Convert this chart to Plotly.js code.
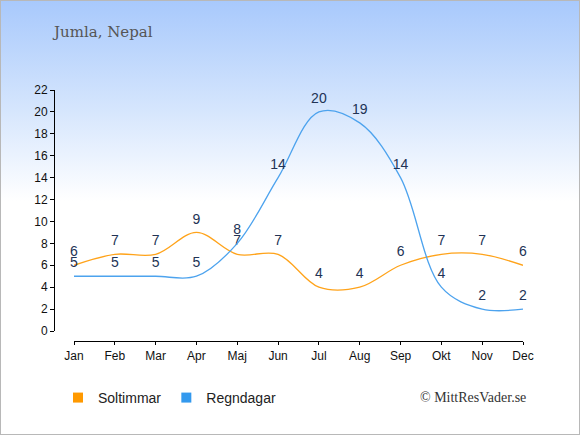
<!DOCTYPE html>
<html><head><meta charset="utf-8">
<script src="https://cdn.plot.ly/plotly-3.0.1.min.js"></script>
<style>
html,body{margin:0;padding:0;}
#wrap{width:578px;height:433px;border:1px solid #b8b8b8;background:linear-gradient(to bottom,#a8c9fc 0px,#d6e6fd 110px,#ffffff 200px,#ffffff 435px);position:relative;}
#chart{width:580px;height:435px;position:absolute;left:-1px;top:-1px;}
</style></head>
<body><div id="wrap"><div id="chart"></div></div>
<script>
const months = ["Jan","Feb","Mar","Apr","Maj","Jun","Jul","Aug","Sep","Okt","Nov","Dec"];
const sunHours = [6,7,7,9,7,7,4,4,6,7,7,6];
const rainDays = [5,5,5,5,8,14,20,19,14,4,2,2];
const yTicks = [0,2,4,6,8,10,12,14,16,18,20,22];
const sunName = "Soltimmar";
const rainName = "Regndagar";
const sunColor = "#ffa31a";
const rainColor = "#4da3ee";
const labelFont = {family:"Liberation Sans, Arial, sans-serif", size:14, color:"#223355"};

const traces = [
  {x:months, y:sunHours, mode:"lines+markers+text", text:sunHours.map(String), textposition:"top center",
   textfont:labelFont, line:{color:sunColor, width:1.3, shape:"spline", smoothing:1},
   marker:{size:7, color:"rgba(0,0,0,0)"},
   showlegend:false, hoverinfo:"skip", cliponaxis:false},
  {x:months, y:rainDays, mode:"lines+markers+text", text:rainDays.map(String), textposition:"top center",
   textfont:labelFont, line:{color:rainColor, width:1.3, shape:"spline", smoothing:1},
   marker:{size:7, color:"rgba(0,0,0,0)"},
   showlegend:false, hoverinfo:"skip", cliponaxis:false},
  {x:[null], y:[null], type:"scatter", mode:"markers", name:sunName,
   marker:{symbol:"square", size:10, color:"#ff9900"}, showlegend:true},
  {x:[null], y:[null], type:"scatter", mode:"markers", name:rainName,
   marker:{symbol:"square", size:10, color:"#3399ee"}, showlegend:true}
];

const layout = {
  width:580, height:435,
  paper_bgcolor:"rgba(0,0,0,0)", plot_bgcolor:"rgba(0,0,0,0)",
  margin:{l:54, r:57, t:90, b:94},
  font:{family:"Liberation Sans, Arial, sans-serif", size:12, color:"#111"},
  xaxis:{type:"category", domain:[20/469,1], anchor:"free", position:0,
    range:[0,11], showgrid:false, zeroline:false, showline:true, linecolor:"#000", linewidth:1.3,
    ticks:"outside", ticklen:3, tickcolor:"#000", tickfont:{size:12, color:"#111"}, fixedrange:true},
  yaxis:{domain:[10/251,1], anchor:"free", position:0, range:[0,22], tickvals:yTicks,
    showgrid:false, zeroline:false, showline:true, linecolor:"#000", linewidth:1.3,
    ticks:"outside", ticklen:4, tickcolor:"#000", tickfont:{size:12, color:"#111"}, fixedrange:true},
  showlegend:true,
  legend:{orientation:"h", x:0.0085, y:-0.227, xanchor:"left", yanchor:"middle",
    bgcolor:"rgba(0,0,0,0)", font:{size:14, color:"#222"}, itemwidth:30, tracegroupgap:0},
  annotations:[
    {text:"Jumla, Nepal", xref:"paper", yref:"paper", x:-0.0085, y:1.231, xanchor:"left", yanchor:"middle",
     showarrow:false, font:{family:"DejaVu Serif, Georgia, serif", size:15, color:"#555"}},
    {text:"© MittResVader.se", xref:"paper", yref:"paper", x:1.01, y:-0.227, xanchor:"right", yanchor:"middle",
     showarrow:false, font:{family:"Liberation Serif, Times New Roman, serif", size:14, color:"#333"}}
  ]
};
Plotly.newPlot("chart", traces, layout, {displayModeBar:false, staticPlot:true});
</script></body></html>
